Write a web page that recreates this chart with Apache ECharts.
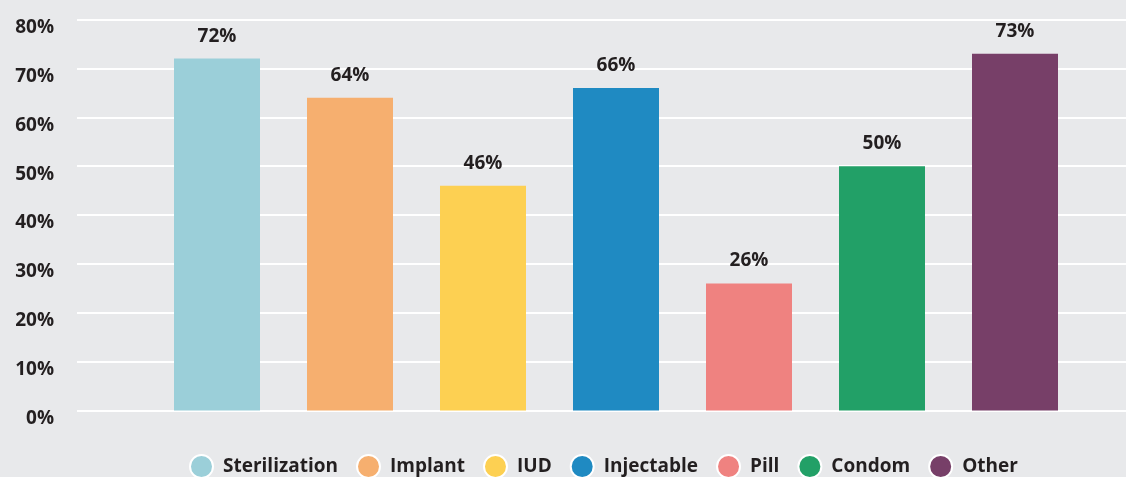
<!DOCTYPE html>
<html>
<head>
<meta charset="utf-8">
<script src="https://cdn.jsdelivr.net/npm/echarts@6/dist/echarts.min.js"></script>
<style>
  html, body { margin: 0; padding: 0; background: #e8e9eb; }
  #chart { width: 1126px; height: 477px; }
</style>
</head>
<body>
<div id="chart"></div>
<script>
// 数据
const methods = ['Sterilization', 'Implant', 'IUD', 'Injectable', 'Pill', 'Condom', 'Other'];
const shares = [72, 64, 46, 66, 26, 50, 73];
const colors = ['#9bcfd9', '#f6af6f', '#fdd052', '#1f8ac2', '#ef8280', '#22a067', '#773f68'];
const yTicks = [0, 10, 20, 30, 40, 50, 60, 70, 80];

const font = '"Open Sans", "DejaVu Sans", sans-serif';
const ink = '#231f20';

// 每个系列只在自己的类目位置有值，barGap -100% 让柱子重叠在类目中心
const series = methods.map((name, i) => ({
  name: name,
  type: 'bar',
  xAxisIndex: 1,
  yAxisIndex: 1,
  barWidth: 86,
  barGap: '-100%',
  itemStyle: { color: colors[i] },
  label: {
    show: true,
    position: 'top',
    distance: 13,
    formatter: '{c}%',
    fontFamily: font,
    fontWeight: 'bold',
    fontSize: 19,
    color: ink
  },
  data: methods.map((m, j) => (j === i ? shares[i] : null))
}));

const chart = echarts.init(document.getElementById('chart'));
chart.setOption({
  backgroundColor: '#e8e9eb',
  animation: false,
  grid: [
    { left: 77, right: 0, top: 19.5, bottom: 66.5 },
    { left: 150.5, width: 931, top: 19.5, bottom: 66.5 }
  ],
  legend: {
    data: methods,
    left: 184,
    top: 449,
    icon: 'circle',
    itemWidth: 23,
    itemHeight: 23,
    itemGap: 18,
    itemStyle: { borderColor: '#ffffff', borderWidth: 2 },
    textStyle: {
      fontFamily: font,
      fontWeight: 'bold',
      fontSize: 19,
      color: ink,
      padding: [0, 0, 0, 5]
    }
  },
  xAxis: [
    { type: 'category', gridIndex: 0, data: [''], show: false },
    { type: 'category', gridIndex: 1, data: methods, show: false }
  ],
  yAxis: [
    {
      type: 'value',
      gridIndex: 0,
      min: yTicks[0],
      max: yTicks[yTicks.length - 1],
      interval: 10,
      axisLine: { show: false },
      axisTick: { show: false },
      splitLine: { lineStyle: { color: '#ffffff', width: 2 } },
      axisLabel: {
        formatter: '{value}%',
        margin: 23,
        fontFamily: font,
        fontWeight: 'bold',
        fontSize: 19,
        color: ink,
        verticalAlign: 'top',
        lineHeight: 16
      }
    },
    {
      type: 'value',
      gridIndex: 1,
      min: yTicks[0],
      max: yTicks[yTicks.length - 1],
      interval: 10,
      show: false,
      splitLine: { show: false }
    }
  ],
  series: series
});

window.addEventListener('resize', () => chart.resize());
</script>
</body>
</html>
